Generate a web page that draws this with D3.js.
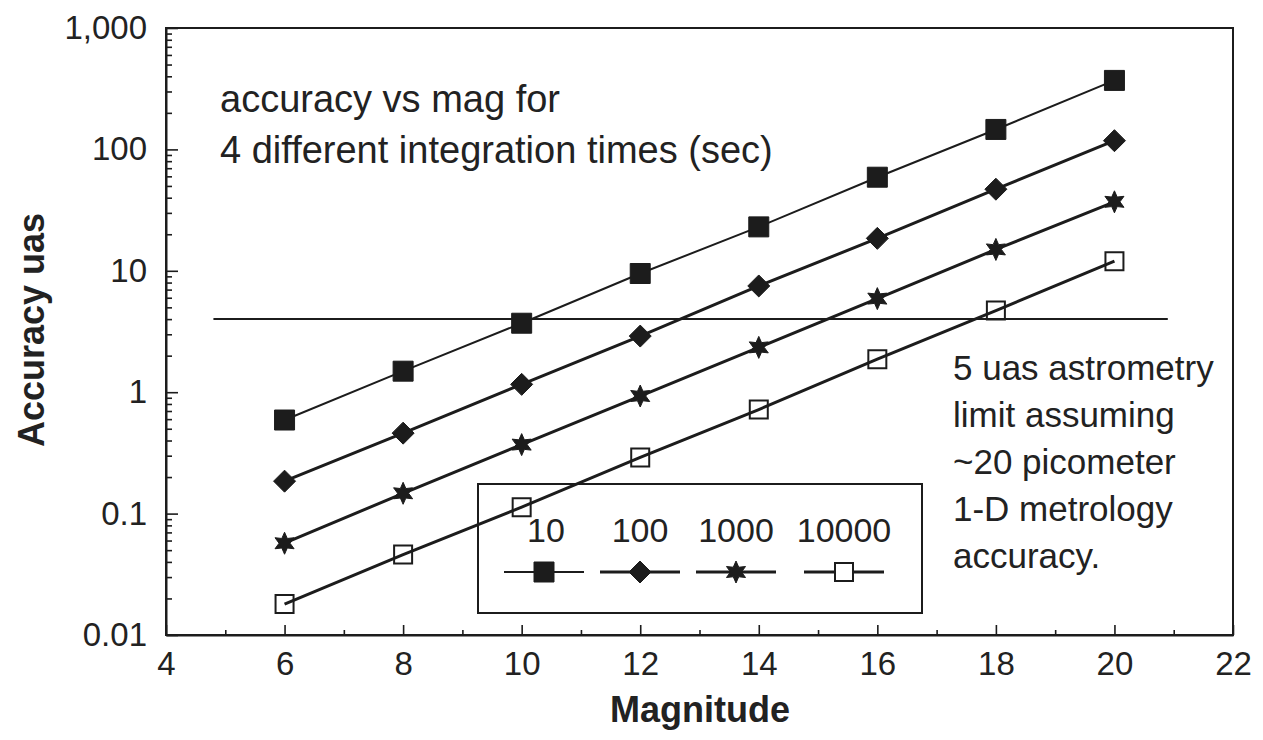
<!DOCTYPE html>
<html>
<head>
<meta charset="utf-8">
<script src="https://cdn.jsdelivr.net/npm/d3@7"></script>
<style>
  body { margin: 0; background: #fff; }
  text { font-family: "Liberation Sans", Arial, sans-serif; fill: #222; }
</style>
</head>
<body>
<script>
// Data
const magnitudes = [6, 8, 10, 12, 14, 16, 18, 20];
const seriesNames = ["10", "100", "1000", "10000"];   // integration times (sec)
const acc10    = [0.59, 1.49, 3.7, 9.5, 23, 59, 146, 370];
const acc100   = [0.185, 0.46, 1.16, 2.9, 7.5, 18.5, 47, 118];
const acc1000  = [0.057, 0.147, 0.37, 0.93, 2.34, 5.9, 15, 37];
const acc10000 = [0.018, 0.046, 0.113, 0.29, 0.72, 1.87, 4.7, 12];
const limitValue = 4;          // horizontal astrometry limit line
const limitRange = [4.8, 20.9];
const xTicks = [4, 6, 8, 10, 12, 14, 16, 18, 20, 22];
const yTicks = [0.01, 0.1, 1, 10, 100, 1000];
const yTickLabels = ["0.01", "0.1", "1", "10", "100", "1,000"];

const width = 1263, height = 740;
const ink = "#1c1c1c";

const svg = d3.select("body").append("svg")
    .attr("width", width)
    .attr("height", height);

const x = d3.scaleLinear().domain([4, 22]).range([166, 1233]);
const y = d3.scaleLog().domain([0.01, 1000]).range([635, 28]);

// frame
svg.append("rect")
    .attr("x", x(4)).attr("y", y(1000))
    .attr("width", x(22) - x(4)).attr("height", y(0.01) - y(1000))
    .attr("fill", "none").attr("stroke", ink).attr("stroke-width", 2);

// y axis: major + minor ticks pointing inwards
const minorY = [];
[0.01, 0.1, 1, 10, 100].forEach(d => { for (let k = 2; k <= 9; k++) minorY.push(d * k); });

const yAxis = svg.append("g")
    .attr("transform", `translate(${x(4)},0)`)
    .call(d3.axisLeft(y).tickValues(yTicks).tickSizeInner(-12).tickSizeOuter(0).tickPadding(19)
        .tickFormat((d, i) => yTickLabels[i]));
svg.append("g")
    .attr("transform", `translate(${x(4)},0)`)
    .call(d3.axisLeft(y).tickValues(minorY).tickSizeInner(-6).tickSizeOuter(0).tickFormat(""))
    .call(g => g.select(".domain").remove());

// x axis: major + minor ticks pointing up
const xAxis = svg.append("g")
    .attr("transform", `translate(0,${y(0.01)})`)
    .call(d3.axisBottom(x).tickValues(xTicks).tickSizeInner(-10).tickSizeOuter(0).tickPadding(17)
        .tickFormat(d3.format("d")));
svg.append("g")
    .attr("transform", `translate(0,${y(0.01)})`)
    .call(d3.axisBottom(x).tickValues(d3.range(5, 22, 2)).tickSizeInner(-5).tickSizeOuter(0).tickFormat(""))
    .call(g => g.select(".domain").remove());

svg.selectAll(".domain").attr("stroke", ink).attr("stroke-width", 2);
svg.selectAll(".tick line").attr("stroke", ink).attr("stroke-width", 1.6);
yAxis.selectAll("text").attr("font-size", 33).attr("fill", "#222");
xAxis.selectAll("text").attr("font-size", 33).attr("fill", "#222");

// axis titles
svg.append("text")
    .attr("x", 700).attr("y", 722)
    .attr("text-anchor", "middle")
    .attr("font-size", 36).attr("font-weight", "bold")
    .text("Magnitude");
svg.append("text")
    .attr("transform", "translate(44,330) rotate(-90)")
    .attr("text-anchor", "middle")
    .attr("font-size", 36).attr("font-weight", "bold")
    .text("Accuracy uas");

// limit line
svg.append("line")
    .attr("x1", x(limitRange[0])).attr("x2", x(limitRange[1]))
    .attr("y1", y(limitValue)).attr("y2", y(limitValue))
    .attr("stroke", ink).attr("stroke-width", 2);

// marker shapes
const star6 = (() => {
    const pts = [];
    for (let i = 0; i < 12; i++) {
        const r = i % 2 === 0 ? 11 : 5.5;
        const a = -Math.PI / 2 + i * Math.PI / 6;
        pts.push([r * Math.cos(a), r * Math.sin(a)]);
    }
    return "M" + pts.map(p => p.join(",")).join("L") + "Z";
})();
const markers = [
    { path: "M-10,-10H10V10H-10Z", fill: ink, stroke: ink, sw: 1 },
    { path: "M0,-11L11,0L0,11L-11,0Z", fill: ink, stroke: ink, sw: 1 },
    { path: star6, fill: ink, stroke: ink, sw: 1 },
    { path: "M-9,-9H9V9H-9Z", fill: "none", stroke: ink, sw: 2 }
];
const lineWidths = [2, 3, 3, 3];

const allSeries = [acc10, acc100, acc1000, acc10000];
const line = d3.line().x(d => x(d[0])).y(d => y(d[1]));

allSeries.forEach((vals, i) => {
    const pts = magnitudes.map((m, j) => [m, vals[j]]);
    svg.append("path")
        .attr("d", line(pts))
        .attr("fill", "none").attr("stroke", ink).attr("stroke-width", lineWidths[i]);
    svg.selectAll(null).data(pts).enter().append("path")
        .attr("transform", d => `translate(${x(d[0])},${y(d[1])})`)
        .attr("d", markers[i].path)
        .attr("fill", markers[i].fill)
        .attr("stroke", markers[i].stroke)
        .attr("stroke-width", markers[i].sw);
});

// legend
const legend = svg.append("g");
legend.append("rect")
    .attr("x", 478).attr("y", 484).attr("width", 444).attr("height", 129)
    .attr("fill", "none").attr("stroke", ink).attr("stroke-width", 2);
const legendX = [544, 640, 736, 844];
seriesNames.forEach((name, i) => {
    const cx = legendX[i];
    legend.append("text")
        .attr("x", cx + (i === 0 ? 2 : 0)).attr("y", 542)
        .attr("text-anchor", "middle").attr("font-size", 34)
        .text(name);
    legend.append("line")
        .attr("x1", cx - 40).attr("x2", cx + 40)
        .attr("y1", 572).attr("y2", 572)
        .attr("stroke", ink).attr("stroke-width", lineWidths[i]);
    legend.append("path")
        .attr("transform", `translate(${cx},572)`)
        .attr("d", markers[i].path)
        .attr("fill", markers[i].fill === "none" ? "#fff" : markers[i].fill)
        .attr("stroke", markers[i].stroke)
        .attr("stroke-width", markers[i].sw);
});

// annotations
const note1 = ["accuracy vs mag for", "4 different integration times (sec)"];
svg.append("text")
    .attr("font-size", 38)
    .selectAll("tspan").data(note1).enter().append("tspan")
    .attr("x", 220).attr("y", (d, i) => 112 + i * 51)
    .text(d => d);

const note2 = ["5 uas astrometry", "limit assuming", "~20 picometer", "1-D metrology", "accuracy."];
svg.append("text")
    .attr("font-size", 35)
    .selectAll("tspan").data(note2).enter().append("tspan")
    .attr("x", 953).attr("y", (d, i) => 380 + i * 47)
    .text(d => d);
</script>
</body>
</html>
